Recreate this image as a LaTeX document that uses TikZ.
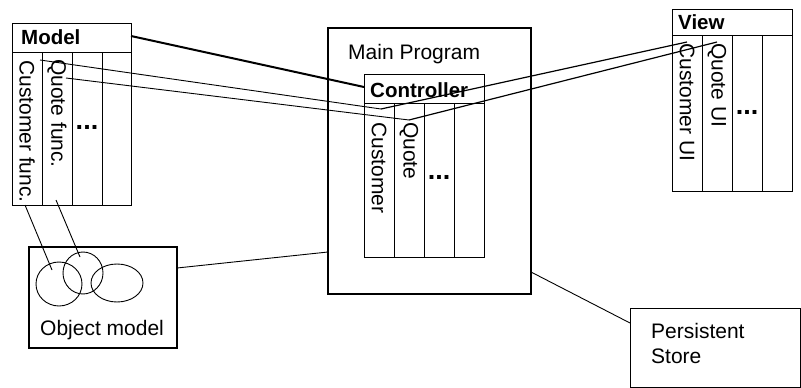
\documentclass[tikz,border=0pt]{standalone}
\usepackage{fontspec}
\setmainfont{Liberation Sans}
\begin{document}
\begin{tikzpicture}[x=1pt,y=-1pt,
  box/.style={draw, line width=0.9pt, inner sep=0pt, outer sep=0pt, anchor=north west},
  heavybox/.style={box, line width=1.6pt},
  lbl/.style={inner sep=0pt, font=\fontsize{21}{24}\selectfont},
  blbl/.style={inner sep=0pt, font=\fontsize{20.5}{24}\selectfont\bfseries},
  vlbl/.style={lbl, rotate=-90, anchor=west},
  dotlbl/.style={inner sep=0pt, font=\fontsize{27}{30}\selectfont\bfseries, anchor=center},
  partline/.style={line width=0.9pt},
  thickconn/.style={line width=2pt},
  midconn/.style={line width=1.2pt},
  thinconn/.style={line width=0.9pt}]
\useasboundingbox (0,0) rectangle (801,388);
% Model
\node[box, minimum width=119pt, minimum height=182pt] (model) at (12,23) {};
\draw[partline] (12,52) -- (131,52) (42,52) -- (42,205) (72,52) -- (72,205) (102,52) -- (102,205);
\node[blbl, anchor=base west] (modelt) at (21,45) {Model};
\node[vlbl] (mcust) at (27,60) {Customer func.};
\node[vlbl] (mquote) at (57,59) {Quote func.};
\node[dotlbl] (mdots) at (87,127) {...};
% Main program
\node[heavybox, minimum width=203pt, minimum height=266pt] (main) at (328,28) {};
\node[lbl, anchor=base west] (maint) at (348,59) {Main Program};
% Controller
\node[box, minimum width=120pt, minimum height=183pt] (ctrl) at (364,74) {};
\draw[partline] (364,103) -- (484,103) (394,103) -- (394,257) (424,103) -- (424,257) (454,103) -- (454,257);
\node[blbl, anchor=base west] (ctrlt) at (370,97) {Controller};
\node[vlbl] (ccust) at (379,122) {Customer};
\node[vlbl] (cquote) at (409,122) {Quote};
\node[dotlbl] (cdots) at (439,177) {...};
% View
\node[box, minimum width=120pt, minimum height=182pt] (view) at (672,9) {};
\draw[partline] (672,35) -- (792,35) (702,35) -- (702,191) (732,35) -- (732,191) (762,35) -- (762,191);
\node[blbl, anchor=base west] (viewt) at (678,29) {View};
\node[vlbl] (vcust) at (687,43) {Customer UI};
\node[vlbl] (vquote) at (717,43) {Quote UI};
\node[dotlbl] (vdots) at (747,112) {...};
% Object model
\node[heavybox, minimum width=148pt, minimum height=101pt] (obj) at (29,247) {};
\node[lbl, anchor=base west] (objt) at (40,335) {Object model};
\draw[line width=0.9pt] (59,284) ellipse [x radius=23pt, y radius=22pt];
\draw[line width=0.9pt] (83,273) ellipse [x radius=20pt, y radius=21pt];
\draw[line width=0.9pt] (117,283) ellipse [x radius=26pt, y radius=19pt];
% Persistent store
\node[box, minimum width=170pt, minimum height=79pt] (store) at (630,308) {};
\node[lbl, anchor=base west] (storet1) at (651,338) {Persistent};
\node[lbl, anchor=base west] (storet2) at (651,363) {Store};
% connector end points
\coordinate (m1) at (131,36);
\coordinate (c1) at (364,87);
\coordinate (mq1) at (40,60);
\coordinate (cc) at (381,109);
\coordinate (mq2) at (66,78);
\coordinate (cq) at (409,120);
\coordinate (vc) at (687,42);
\coordinate (vq) at (717,42);
\coordinate (om1) at (25,205);
\coordinate (e1p) at (52,270);
\coordinate (om2) at (56,200);
\coordinate (e2p) at (80,257);
\coordinate (objr) at (177,268);
\coordinate (mainl) at (328,252);
\coordinate (mainr) at (531,272);
\coordinate (storel) at (630,323);
% connectors
\draw[thickconn] (m1) -- (c1);
\draw[thinconn] (mq1) -- (cc);
\draw[thinconn] (mq2) -- (cq);
\draw[midconn] (cc) -- (vc);
\draw[midconn] (cq) -- (vq);
\draw[thinconn] (om1) -- (e1p);
\draw[thinconn] (om2) -- (e2p);
\draw[thinconn] (objr) -- (mainl);
\draw[thinconn] (mainr) -- (storel);
\end{tikzpicture}
\end{document}
